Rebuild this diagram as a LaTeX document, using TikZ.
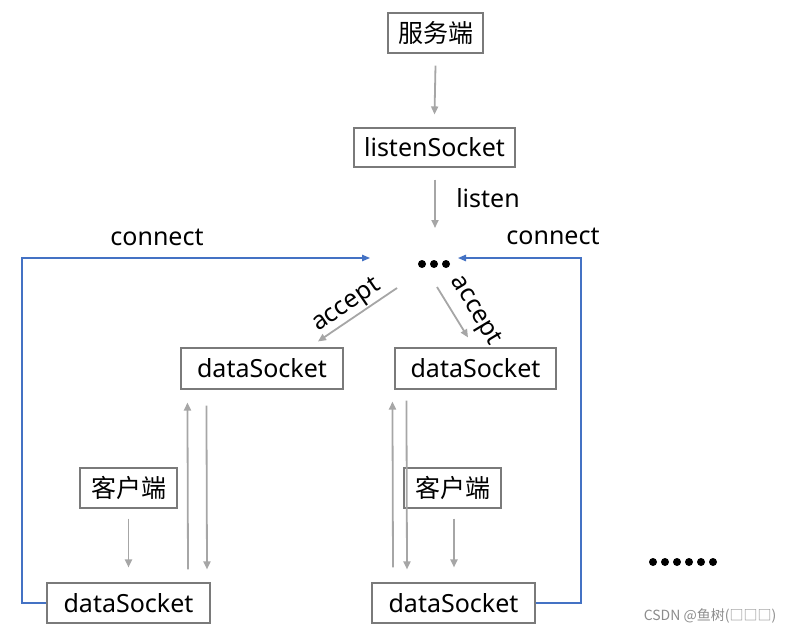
\documentclass[tikz,border=0pt]{standalone}
\usepackage{fontspec}
\setmainfont{Noto Sans}
\newfontfamily\cjk{Noto Sans CJK SC}
\usetikzlibrary{arrows.meta,calc}
\definecolor{boxline}{HTML}{7A7A7A}
\definecolor{arrgray}{HTML}{A6A6A6}
\definecolor{conblue}{HTML}{4472C4}
\definecolor{wmgray}{HTML}{8C8C8C}
\tikzset{
  sbox/.style={draw=boxline, line width=1.1pt, inner sep=0pt, fill=white,
    font=\fontsize{25}{29}\selectfont},
  garrow/.style={draw=arrgray, line width=1.8pt, -{Triangle[length=8pt,width=7pt]}},
  barrow/.style={draw=conblue, line width=1.3pt, -{Triangle[length=8pt,width=6.5pt]}},
  lbl/.style={font=\fontsize{25}{29}\selectfont, inner sep=0pt},
}
\begin{document}
\begin{tikzpicture}[x=1pt,y=-1pt]
\useasboundingbox (0,0) rectangle (788,634);
% nodes
\node[sbox, minimum width=95pt, minimum height=40pt] (srv) at (435.5,33) {\cjk 服务端};
\node[sbox, minimum width=161pt, minimum height=39pt] (ls) at (434.5,147.5) {listenSocket};
\coordinate (hub) at (434,264);
\node[sbox, minimum width=162pt, minimum height=41pt] (dl) at (262,368.5) {dataSocket};
\node[sbox, minimum width=161pt, minimum height=41pt] (dr) at (475.5,368.5) {dataSocket};
\node[sbox, minimum width=97pt, minimum height=40pt] (cl) at (128.5,488) {\cjk 客户端};
\node[sbox, minimum width=97pt, minimum height=40pt] (cr) at (452.5,488) {\cjk 客户端};
\node[sbox, minimum width=163pt, minimum height=40pt] (dlb) at (128.5,603) {dataSocket};
\node[sbox, minimum width=163pt, minimum height=40pt] (drb) at (453.5,603) {dataSocket};
% hub dots
\foreach \dx in {-12,0,12} \fill ($(hub)+(\dx,0)$) circle[radius=4pt];
% server chain
\draw[garrow] ($(srv.south)+(0,12)$) -- ($(ls.north)+(0,-13)$);
\draw[garrow] ($(ls.south)+(0.5,12)$) -- ($(hub)+(1,-36)$);
\node[lbl] (llisten) at (488,198) {listen};
% accept
\coordinate (aL1) at ($(hub)+(-37,24)$);
\coordinate (aL2) at ($(dl.north)+(56,-6)$);
\draw[garrow] (aL1) -- (aL2);
\node[lbl, rotate=34.5] (accL) at (347,306) {accept};
\coordinate (aR1) at ($(hub)+(3,23)$);
\coordinate (aR2) at ($(dr.north)+(-7.5,-10)$);
\draw[garrow] (aR1) -- (aR2);
\node[lbl, rotate=-59] (accR) at (475,311) {accept};
% left lower group
\draw[garrow] ($(dlb.north)+(59.5,-13)$) -- ($(dl.south west)+(7,13)$);
\draw[garrow] ($(dl.south west)+(26,16)$) -- ($(dlb.north)+(78.5,-13)$);
\draw[garrow] ($(cl.south)+(0,10)$) -- ($(dlb.north)+(0,-15)$);
% right lower group
\draw[garrow] ($(drb.north)+(-60.5,-15)$) -- ($(dr.south west)+(-2,12)$);
\draw[garrow] ($(dr.south west)+(12,11)$) -- ($(drb.north)+(-46.5,-13)$);
\draw[garrow] ($(cr.south)+(1.5,10)$) -- ($(drb.north)+(0.5,-15)$);
% connect lines
\draw[barrow] (dlb.west) -- (22,603) -- (22,258) -- ($(hub)+(-64,-6)$);
\node[lbl] (conL) at (157,237) {connect};
\draw[barrow] (drb.east) -- (581,603) -- (581,258) -- ($(hub)+(24,-6)$);
\node[lbl] (conR) at (553,236) {connect};
% six dots
\foreach \px in {653,665,677,689,701,713} \fill (\px,562) circle[radius=4pt];
% watermark
\node[inner sep=0pt, text=wmgray, font=\fontsize{14}{16}\selectfont\cjk] (wm) at (710,616) {CSDN @鱼树(□□□)};
\end{tikzpicture}
\end{document}
